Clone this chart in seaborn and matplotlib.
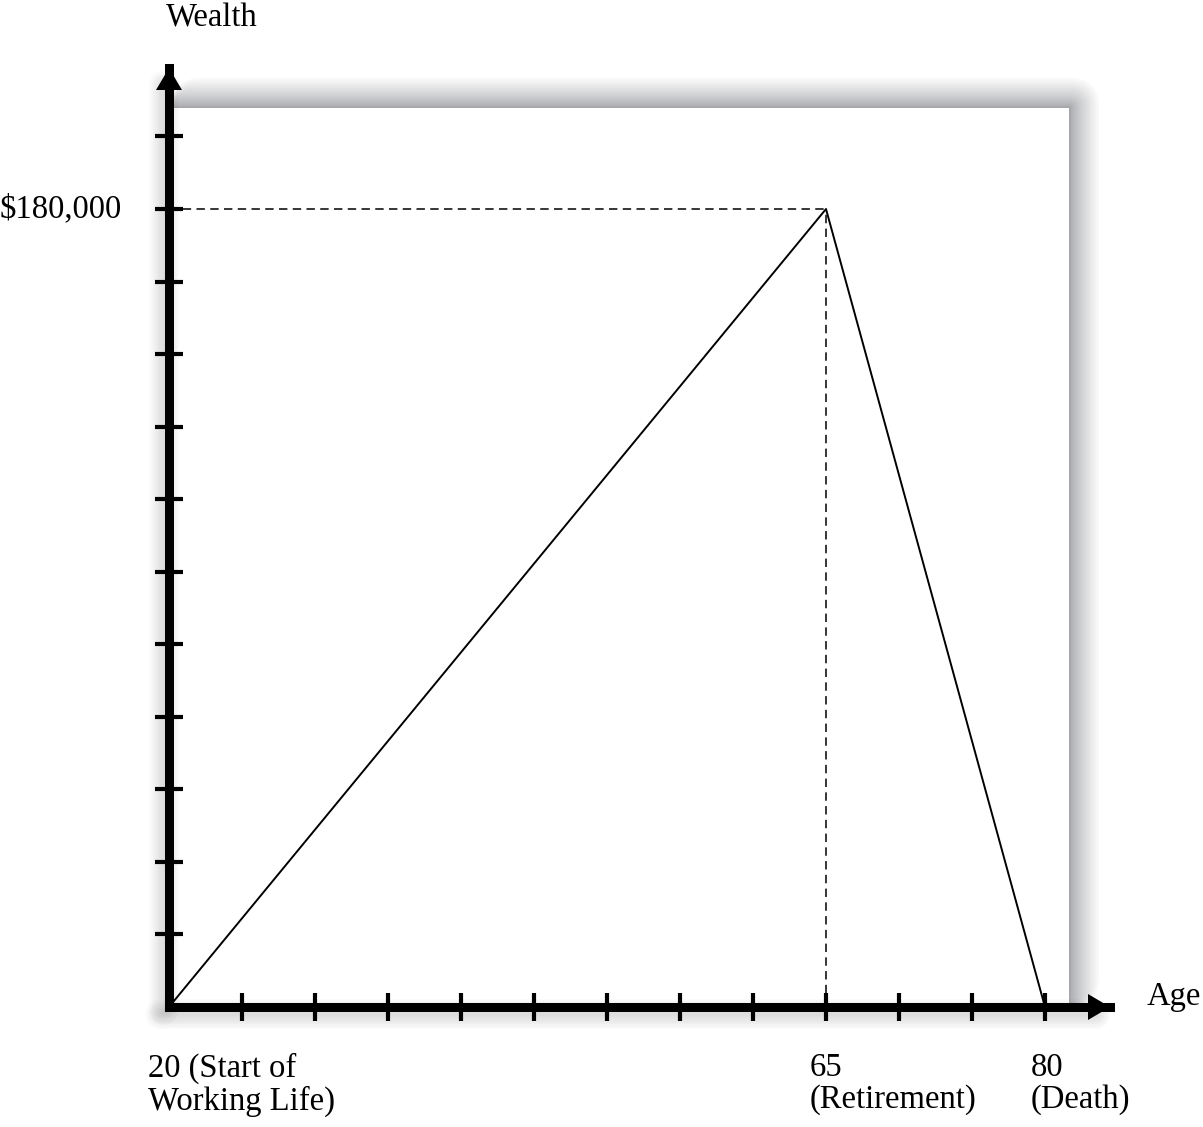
import numpy as np
import matplotlib
matplotlib.use("Agg")
import matplotlib.pyplot as plt
from matplotlib.patches import FancyBboxPatch, Polygon
import seaborn as sns

sns.set_theme(style="white")
plt.rcParams['font.family'] = ['Liberation Serif', 'DejaVu Serif']

# data
ages = [20, 65, 80]
wealth = [0, 180000, 0]
peak_age = 65
peak_wealth = 180000
x_ticks = [25, 30, 35, 40, 45, 50, 55, 60, 65, 70, 75, 80]
n_y_ticks = 12
y_step = peak_wealth / 11
y_ticks = [y_step * k for k in range(1, n_y_ticks + 1)]
age_labels = ["20 (Start of\nWorking Life)", "65\n(Retirement)", "80\n(Death)"]
label_ages = [20, 65, 80]

W, H = 1203, 1127
fig = plt.figure(figsize=(W / 100, H / 100), dpi=100)

# background layer (pixel coords) for panel and shadows
bg = fig.add_axes([0, 0, 1, 1], zorder=0)
bg.set_xlim(0, W)
bg.set_ylim(H, 0)
bg.axis('off')

x0, x1, y0, y1 = 172, 1069, 108, 1007
N = 20
for k in range(1, N + 1):
    d = 30 * (k / N) ** 1.8
    bg.add_patch(FancyBboxPatch((x0 + d, y0), x1 - x0 - d, y1 - d - y0,
                                boxstyle=f"round,pad={d}", fc=(0.32, 0.33, 0.36),
                                ec='none', alpha=0.035))
bg.add_patch(plt.Rectangle((x0, y0), x1 - x0, y1 - y0, fc='white', ec='none'))

# soft shadow of the axes lines
for k in range(1, 10):
    bg.plot([160, 1095], [1014, 1014], color='0.3', lw=k * 2.4, alpha=0.02,
            solid_capstyle='round')
    bg.plot([164, 164], [85, 1010], color='0.3', lw=k * 2.4, alpha=0.02,
            solid_capstyle='round')

# main axes
left, bottom = 169, 1007
right, top = 1110, 68
ax = fig.add_axes([left / W, (H - bottom) / H, (right - left) / W, (bottom - top) / H],
                  zorder=1)
ax.patch.set_alpha(0)

px_per_year = (1045 - 826) / 15
px_per_val = (bottom - 209) / peak_wealth
ax.set_xlim(20, 20 + (right - left) / px_per_year)
ax.set_ylim(0, (bottom - top) / px_per_val)

sns.lineplot(x=ages, y=wealth, color='black', lw=1.4, ax=ax)

ax.plot([20, peak_age], [peak_wealth, peak_wealth], color='black', lw=1.1,
        dashes=(5.5, 3.5))
ax.plot([peak_age, peak_age], [0, peak_wealth], color='black', lw=1.1,
        dashes=(5.5, 3.5))

for s in ['top', 'right']:
    ax.spines[s].set_visible(False)
for s in ['left', 'bottom']:
    ax.spines[s].set_linewidth(6.5)
    ax.spines[s].set_color('black')
    ax.spines[s].set_capstyle('projecting')

ax.set_xticks(x_ticks)
ax.set_yticks(y_ticks)
ax.tick_params(axis='both', direction='inout', length=20, width=3, color='black',
               bottom=True, left=True, labelbottom=False, labelleft=False)

# arrowheads
ax.add_patch(Polygon([[1.0, 0.0], [1 - 22 / 941, 13 / 939], [1 - 22 / 941, -13 / 939]],
                     closed=True, transform=ax.transAxes, fc='black', ec='none',
                     clip_on=False, zorder=5))
ax.add_patch(Polygon([[0.0, 1.0], [-13 / 941, 1 - 22 / 939], [13 / 941, 1 - 22 / 939]],
                     closed=True, transform=ax.transAxes, fc='black', ec='none',
                     clip_on=False, zorder=5))

fs = 23.5
ax.text((212 - left) / 941, (bottom - 18) / 939, "Wealth", transform=ax.transAxes,
        ha='center', va='center', fontsize=fs, color='black')
ax.text((1147 - left) / 941, (bottom - 997) / 939, "Age", transform=ax.transAxes,
        ha='left', va='center', fontsize=fs, color='black')
ax.annotate("$180,000", xy=(20, peak_wealth), xytext=(-34, 0), textcoords='offset points',
            ha='right', va='center', fontsize=fs, color='black', annotation_clip=False)

offsets = [-15, -12, -10]
for a, lab, dx in zip(label_ages, age_labels, offsets):
    ax.annotate(lab, xy=(a, 0), xytext=(dx, -33), textcoords='offset points',
                ha='left', va='top', fontsize=fs, color='black', linespacing=1.05,
                annotation_clip=False)

fig.savefig("out.png", dpi=100)
